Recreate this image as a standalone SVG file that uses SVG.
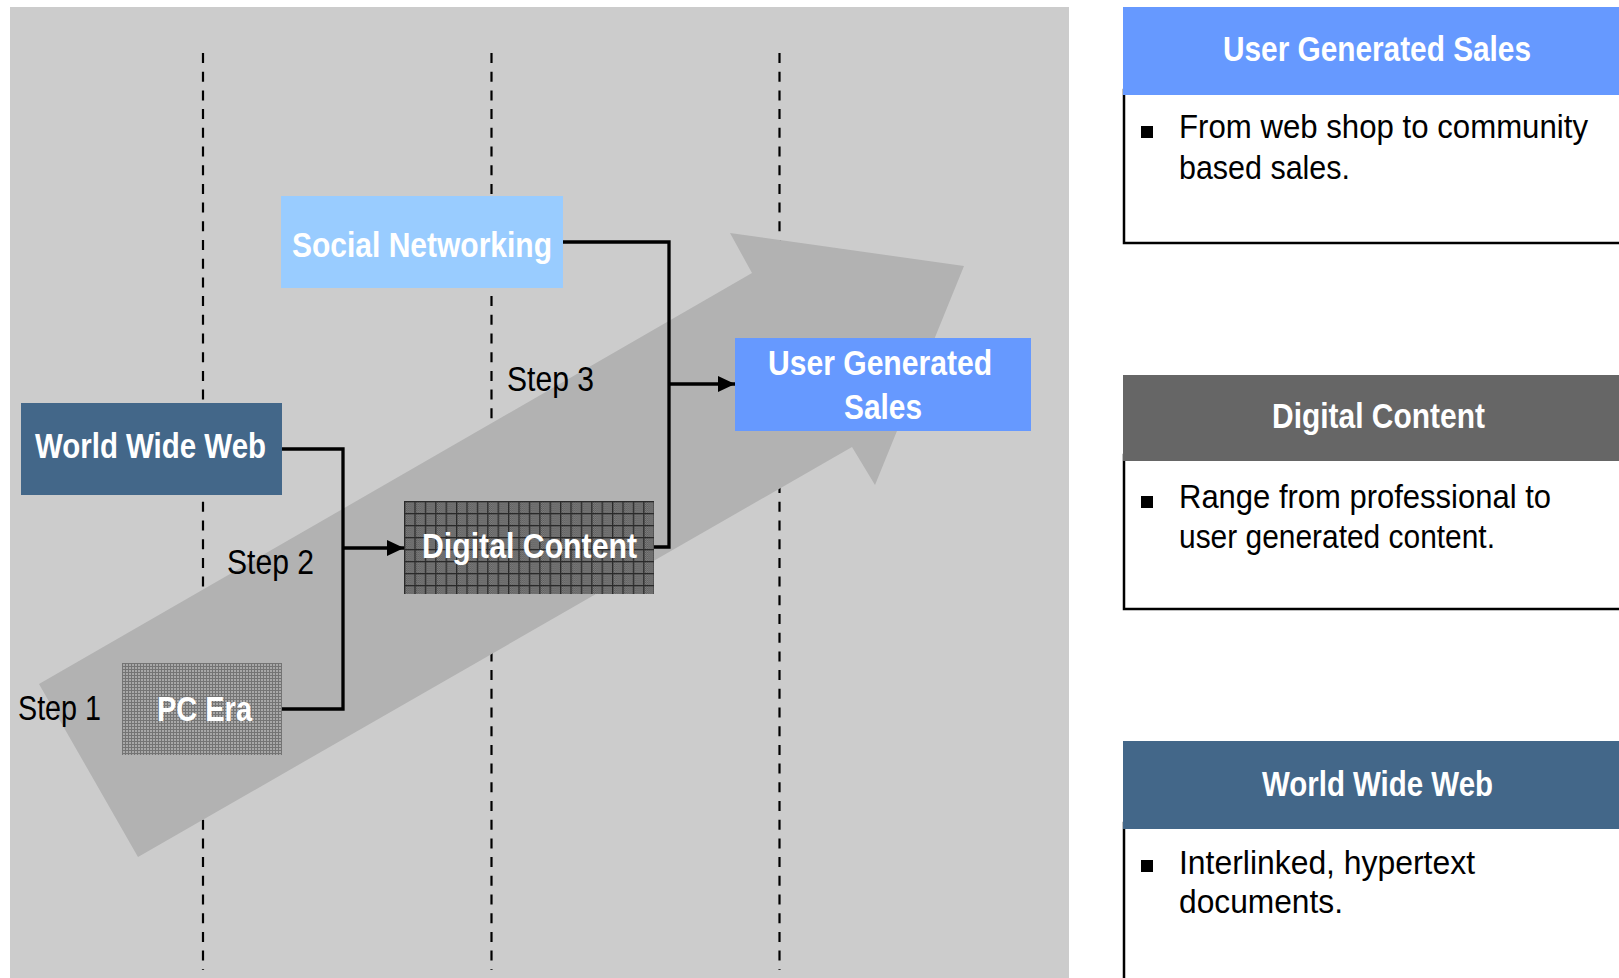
<svg xmlns="http://www.w3.org/2000/svg" width="1619" height="978" viewBox="0 0 1619 978">
<style>
.lbl{font-family:"Liberation Sans",Arial,sans-serif;font-weight:bold;font-size:35px;fill:#ffffff}
.step{font-family:"Liberation Sans",Arial,sans-serif;font-size:35px;fill:#000000}
.body{font-family:"Liberation Sans",Arial,sans-serif;font-size:33.5px;fill:#000000}
.dash{stroke:#000000;stroke-width:2.2;stroke-dasharray:10 8.7;fill:none}
.conn{stroke:#000000;stroke-width:3.3;fill:none;stroke-linejoin:miter}
.panel{fill:#ffffff;stroke:#000000;stroke-width:2.5}
</style>
<defs>
<marker id="arr" viewBox="0 0 17 16" refX="17" refY="8" markerWidth="17" markerHeight="16" markerUnits="userSpaceOnUse" orient="auto">
<path d="M0,0 L17,8 L0,16 z" fill="#000000"/>
</marker>
<pattern id="pcPat" x="122" y="663" width="3" height="3" patternUnits="userSpaceOnUse">
<rect width="3" height="3" fill="#a8a8a8"/>
<rect width="3" height="1" fill="#747474"/>
<rect width="1" height="3" fill="#747474"/>
</pattern>
<pattern id="dcFine" x="0" y="0" width="2" height="2" patternUnits="userSpaceOnUse">
<rect width="2" height="2" fill="#5c5c5c"/>
<rect width="1" height="1" fill="#808080"/>
<rect x="1" y="1" width="1" height="1" fill="#808080"/>
</pattern>
<pattern id="dcGrid" x="404" y="501" width="10.4" height="12" patternUnits="userSpaceOnUse">
<rect width="10.4" height="12" fill="url(#dcFine)"/>
<rect width="10.4" height="1.3" fill="#2a2a2a"/>
<rect width="1.3" height="12" fill="#2a2a2a"/>
</pattern>
</defs>

<rect id="background" x="10" y="7" width="1059" height="975" fill="#cccccc"/>

<g id="lanes">
<line class="dash" x1="203" y1="53" x2="203" y2="970"/>
<line class="dash" x1="491.5" y1="53" x2="491.5" y2="970"/>
<line class="dash" x1="779.5" y1="53" x2="779.5" y2="970"/>
</g>

<polygon id="progress-arrow" points="39,684 752,273 730,233 964,266 875,485 852,447 138,857" fill="#b2b2b2"/>

<g id="connectors">
<path class="conn" d="M282,449 H343 V709 H282"/>
<path class="conn" d="M343,548 H404" marker-end="url(#arr)"/>
<path class="conn" d="M563,242 H669 V547 H654"/>
<path class="conn" d="M669,384 H735" marker-end="url(#arr)"/>
</g>

<g id="step-labels">
<text class="step" x="18" y="720" textLength="83" lengthAdjust="spacingAndGlyphs">Step 1</text>
<text class="step" x="227" y="574" textLength="87" lengthAdjust="spacingAndGlyphs">Step 2</text>
<text class="step" x="507" y="391" textLength="87" lengthAdjust="spacingAndGlyphs">Step 3</text>
</g>

<g id="node-www">
<rect x="21" y="403" width="261" height="92" fill="#436789"/>
<text class="lbl" x="35" y="458" textLength="231" lengthAdjust="spacingAndGlyphs">World Wide Web</text>
</g>

<g id="node-social">
<rect x="281" y="196" width="282" height="92" fill="#99ccff"/>
<text class="lbl" x="292" y="257" textLength="260" lengthAdjust="spacingAndGlyphs">Social Networking</text>
</g>

<g id="node-digital">
<rect x="404" y="501" width="250" height="93" fill="url(#dcGrid)"/>
<text class="lbl" x="422" y="558" textLength="215" lengthAdjust="spacingAndGlyphs">Digital Content</text>
</g>

<g id="node-pc">
<rect x="122" y="663" width="160" height="92" fill="url(#pcPat)"/>
<text class="lbl" x="157" y="721" textLength="95" lengthAdjust="spacingAndGlyphs">PC Era</text>
</g>

<g id="node-ugs">
<rect x="735" y="338" width="296" height="93" fill="#6699ff"/>
<text class="lbl" x="768" y="375" textLength="224" lengthAdjust="spacingAndGlyphs">User Generated</text>
<text class="lbl" x="844" y="419" textLength="78" lengthAdjust="spacingAndGlyphs">Sales</text>
</g>

<g id="panel-ugs">
<rect class="panel" x="1124" y="90" width="600" height="153"/>
<rect x="1123" y="7" width="500" height="88" fill="#6699ff"/>
<text class="lbl" x="1223" y="61" textLength="308" lengthAdjust="spacingAndGlyphs">User Generated Sales</text>
<rect x="1141" y="126" width="12" height="12" fill="#000000"/>
<text class="body" x="1179" y="138" textLength="409" lengthAdjust="spacingAndGlyphs">From web shop to community</text>
<text class="body" x="1179" y="179" textLength="171" lengthAdjust="spacingAndGlyphs">based sales.</text>
</g>

<g id="panel-digital">
<rect class="panel" x="1124" y="455" width="600" height="154"/>
<rect x="1123" y="375" width="500" height="86" fill="#666666"/>
<text class="lbl" x="1272" y="428" textLength="213" lengthAdjust="spacingAndGlyphs">Digital Content</text>
<rect x="1141" y="496" width="12" height="12" fill="#000000"/>
<text class="body" x="1179" y="508" textLength="372" lengthAdjust="spacingAndGlyphs">Range from professional to</text>
<text class="body" x="1179" y="548" textLength="316" lengthAdjust="spacingAndGlyphs">user generated content.</text>
</g>

<g id="panel-www">
<rect class="panel" x="1124" y="823" width="600" height="200"/>
<rect x="1123" y="741" width="500" height="88" fill="#436789"/>
<text class="lbl" x="1262" y="796" textLength="231" lengthAdjust="spacingAndGlyphs">World Wide Web</text>
<rect x="1141" y="860" width="12" height="12" fill="#000000"/>
<text class="body" x="1179" y="874" textLength="296" lengthAdjust="spacingAndGlyphs">Interlinked, hypertext</text>
<text class="body" x="1179" y="913" textLength="164" lengthAdjust="spacingAndGlyphs">documents.</text>
</g>
</svg>
